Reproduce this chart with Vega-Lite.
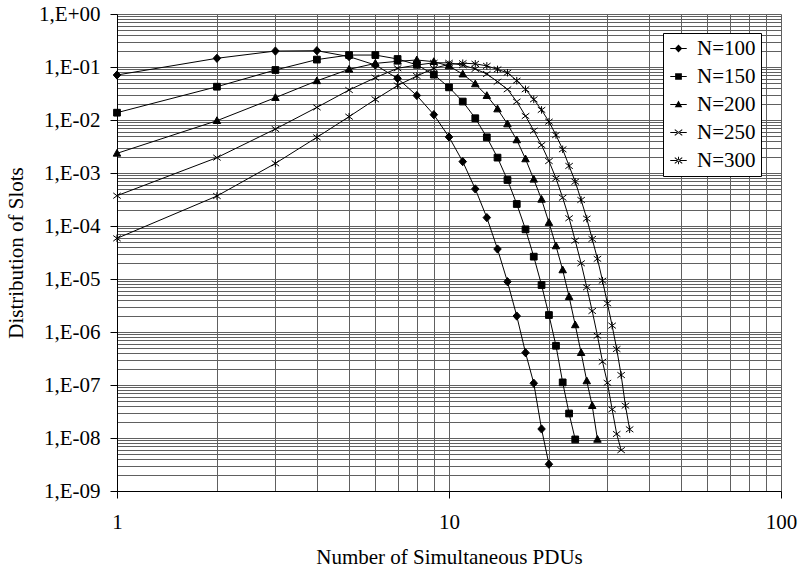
{
  "$schema": "https://vega.github.io/schema/vega-lite/v6.json",
  "width": 664,
  "height": 477,
  "autosize": {"type": "none"},
  "padding": {"left": 117, "top": 14, "right": 23, "bottom": 80},
  "background": "white",
  "config": {
    "view": {"stroke": null},
    "font": "Liberation Serif",
    "axis": {
      "labelFont": "Liberation Serif",
      "titleFont": "Liberation Serif",
      "labelFontSize": 21,
      "titleFontSize": 21,
      "titleFontWeight": "normal",
      "labelColor": "black",
      "titleColor": "black",
      "domainColor": "black",
      "domainWidth": 1,
      "tickColor": "black",
      "tickSize": 7,
      "gridColor": "#606060",
      "gridWidth": 1,
      "gridOpacity": 1,
      "labelFlush": false,
      "labelOverlap": false
    },
    "legend": {
      "labelFont": "Liberation Serif",
      "labelFontSize": 21,
      "labelColor": "black"
    }
  },
  "data": {
    "values": [
      {"n": "N=100", "x": 1, "y": 0.0706},
      {"n": "N=100", "x": 2, "y": 0.146},
      {"n": "N=100", "x": 3, "y": 0.2},
      {"n": "N=100", "x": 4, "y": 0.203},
      {"n": "N=100", "x": 5, "y": 0.157},
      {"n": "N=100", "x": 6, "y": 0.109},
      {"n": "N=100", "x": 7, "y": 0.061},
      {"n": "N=100", "x": 8, "y": 0.029},
      {"n": "N=100", "x": 9, "y": 0.0126},
      {"n": "N=100", "x": 10, "y": 0.00478},
      {"n": "N=100", "x": 11, "y": 0.00164},
      {"n": "N=100", "x": 12, "y": 0.0005},
      {"n": "N=100", "x": 13, "y": 0.000144},
      {"n": "N=100", "x": 14, "y": 0.0000368},
      {"n": "N=100", "x": 15, "y": 0.0000089},
      {"n": "N=100", "x": 16, "y": 0.000002},
      {"n": "N=100", "x": 17, "y": 4.07e-7},
      {"n": "N=100", "x": 18, "y": 1.08e-7},
      {"n": "N=100", "x": 19, "y": 1.48e-8},
      {"n": "N=100", "x": 20, "y": 3.2e-9},
      {"n": "N=150", "x": 1, "y": 0.01374},
      {"n": "N=150", "x": 2, "y": 0.0425},
      {"n": "N=150", "x": 3, "y": 0.0878},
      {"n": "N=150", "x": 4, "y": 0.138},
      {"n": "N=150", "x": 5, "y": 0.168},
      {"n": "N=150", "x": 6, "y": 0.168},
      {"n": "N=150", "x": 7, "y": 0.1416},
      {"n": "N=150", "x": 8, "y": 0.11},
      {"n": "N=150", "x": 9, "y": 0.0717},
      {"n": "N=150", "x": 10, "y": 0.0413},
      {"n": "N=150", "x": 11, "y": 0.0223},
      {"n": "N=150", "x": 12, "y": 0.0108},
      {"n": "N=150", "x": 13, "y": 0.00471},
      {"n": "N=150", "x": 14, "y": 0.00195},
      {"n": "N=150", "x": 15, "y": 0.000738},
      {"n": "N=150", "x": 16, "y": 0.00026},
      {"n": "N=150", "x": 17, "y": 0.0000865},
      {"n": "N=150", "x": 18, "y": 0.0000264},
      {"n": "N=150", "x": 19, "y": 0.0000077},
      {"n": "N=150", "x": 20, "y": 0.00000209},
      {"n": "N=150", "x": 21, "y": 5.5e-7},
      {"n": "N=150", "x": 22, "y": 1.12e-7},
      {"n": "N=150", "x": 23, "y": 2.9e-8},
      {"n": "N=150", "x": 24, "y": 9.4e-9},
      {"n": "N=200", "x": 1, "y": 0.00235},
      {"n": "N=200", "x": 2, "y": 0.0097},
      {"n": "N=200", "x": 3, "y": 0.0264},
      {"n": "N=200", "x": 4, "y": 0.0548},
      {"n": "N=200", "x": 5, "y": 0.0904},
      {"n": "N=200", "x": 6, "y": 0.117},
      {"n": "N=200", "x": 7, "y": 0.128},
      {"n": "N=200", "x": 8, "y": 0.1355},
      {"n": "N=200", "x": 9, "y": 0.126},
      {"n": "N=200", "x": 10, "y": 0.1044},
      {"n": "N=200", "x": 11, "y": 0.0733},
      {"n": "N=200", "x": 12, "y": 0.0478},
      {"n": "N=200", "x": 13, "y": 0.0288},
      {"n": "N=200", "x": 14, "y": 0.0161},
      {"n": "N=200", "x": 15, "y": 0.0084},
      {"n": "N=200", "x": 16, "y": 0.0042},
      {"n": "N=200", "x": 17, "y": 0.00184},
      {"n": "N=200", "x": 18, "y": 0.00076},
      {"n": "N=200", "x": 19, "y": 0.000318},
      {"n": "N=200", "x": 20, "y": 0.000116},
      {"n": "N=200", "x": 21, "y": 0.000042},
      {"n": "N=200", "x": 22, "y": 0.0000148},
      {"n": "N=200", "x": 23, "y": 0.00000464},
      {"n": "N=200", "x": 24, "y": 0.00000136},
      {"n": "N=200", "x": 25, "y": 4.07e-7},
      {"n": "N=200", "x": 26, "y": 1.19e-7},
      {"n": "N=200", "x": 27, "y": 4.07e-8},
      {"n": "N=200", "x": 28, "y": 9.4e-9},
      {"n": "N=250", "x": 1, "y": 0.000373},
      {"n": "N=250", "x": 2, "y": 0.00195},
      {"n": "N=250", "x": 3, "y": 0.00676},
      {"n": "N=250", "x": 4, "y": 0.0173},
      {"n": "N=250", "x": 5, "y": 0.0368},
      {"n": "N=250", "x": 6, "y": 0.0629},
      {"n": "N=250", "x": 7, "y": 0.0945},
      {"n": "N=250", "x": 8, "y": 0.109},
      {"n": "N=250", "x": 9, "y": 0.12},
      {"n": "N=250", "x": 10, "y": 0.12},
      {"n": "N=250", "x": 11, "y": 0.108},
      {"n": "N=250", "x": 12, "y": 0.092},
      {"n": "N=250", "x": 13, "y": 0.0738},
      {"n": "N=250", "x": 14, "y": 0.0528},
      {"n": "N=250", "x": 15, "y": 0.0379},
      {"n": "N=250", "x": 16, "y": 0.0222},
      {"n": "N=250", "x": 17, "y": 0.0119},
      {"n": "N=250", "x": 18, "y": 0.0063},
      {"n": "N=250", "x": 19, "y": 0.00337},
      {"n": "N=250", "x": 20, "y": 0.00168},
      {"n": "N=250", "x": 21, "y": 0.000793},
      {"n": "N=250", "x": 22, "y": 0.000342},
      {"n": "N=250", "x": 23, "y": 0.00014},
      {"n": "N=250", "x": 24, "y": 0.000053},
      {"n": "N=250", "x": 25, "y": 0.0000198},
      {"n": "N=250", "x": 26, "y": 0.00000697},
      {"n": "N=250", "x": 27, "y": 0.00000249},
      {"n": "N=250", "x": 28, "y": 8.5e-7},
      {"n": "N=250", "x": 29, "y": 2.75e-7},
      {"n": "N=250", "x": 30, "y": 1.1e-7},
      {"n": "N=250", "x": 31, "y": 3.47e-8},
      {"n": "N=250", "x": 32, "y": 1.19e-8},
      {"n": "N=250", "x": 33, "y": 5.9e-9},
      {"n": "N=300", "x": 1, "y": 0.0000585},
      {"n": "N=300", "x": 2, "y": 0.000368},
      {"n": "N=300", "x": 3, "y": 0.00152},
      {"n": "N=300", "x": 4, "y": 0.00471},
      {"n": "N=300", "x": 5, "y": 0.01155},
      {"n": "N=300", "x": 6, "y": 0.0245},
      {"n": "N=300", "x": 7, "y": 0.0447},
      {"n": "N=300", "x": 8, "y": 0.0676},
      {"n": "N=300", "x": 9, "y": 0.0945},
      {"n": "N=300", "x": 10, "y": 0.112},
      {"n": "N=300", "x": 11, "y": 0.118},
      {"n": "N=300", "x": 12, "y": 0.115},
      {"n": "N=300", "x": 13, "y": 0.105},
      {"n": "N=300", "x": 14, "y": 0.09},
      {"n": "N=300", "x": 15, "y": 0.078},
      {"n": "N=300", "x": 16, "y": 0.0552},
      {"n": "N=300", "x": 17, "y": 0.038},
      {"n": "N=300", "x": 18, "y": 0.0245},
      {"n": "N=300", "x": 19, "y": 0.0155},
      {"n": "N=300", "x": 20, "y": 0.0093},
      {"n": "N=300", "x": 21, "y": 0.0052},
      {"n": "N=300", "x": 22, "y": 0.0028},
      {"n": "N=300", "x": 23, "y": 0.00136},
      {"n": "N=300", "x": 24, "y": 0.000686},
      {"n": "N=300", "x": 25, "y": 0.00031},
      {"n": "N=300", "x": 26, "y": 0.000138},
      {"n": "N=300", "x": 27, "y": 0.000057},
      {"n": "N=300", "x": 28, "y": 0.000024},
      {"n": "N=300", "x": 29, "y": 0.0000093},
      {"n": "N=300", "x": 30, "y": 0.00000347},
      {"n": "N=300", "x": 31, "y": 0.00000132},
      {"n": "N=300", "x": 32, "y": 4.77e-7},
      {"n": "N=300", "x": 33, "y": 1.54e-7},
      {"n": "N=300", "x": 34, "y": 4.07e-8},
      {"n": "N=300", "x": 35, "y": 1.46e-8}
    ]
  },
  "encoding": {
    "x": {
      "field": "x",
      "type": "quantitative",
      "scale": {"type": "log", "domain": [1, 100], "nice": false},
      "axis": {
        "title": "Number of Simultaneous PDUs",
        "titlePadding": 14,
        "labelPadding": 13,
        "values": [1, 2, 3, 4, 5, 6, 7, 8, 9, 10, 20, 30, 40, 50, 60, 70, 80, 90, 100],
        "labelExpr": "abs(log(datum.value)/LN10 - round(log(datum.value)/LN10)) < 0.001 ? toString(round(datum.value)) : ''",
        "tickOpacity": {"condition": {"test": "abs(log(datum.value)/LN10 - round(log(datum.value)/LN10)) < 0.001", "value": 1}, "value": 0}
      }
    },
    "y": {
      "field": "y",
      "type": "quantitative",
      "scale": {"type": "log", "domain": [1e-9, 1], "nice": false},
      "axis": {
        "title": "Distribution of Slots",
        "titlePadding": 12,
        "labelPadding": 10,
        "values": [1e-9, 2e-9, 3e-9, 4e-9, 5e-9, 6e-9, 7e-9, 8e-9, 9e-9,
                   1e-8, 2e-8, 3e-8, 4e-8, 5e-8, 6e-8, 7e-8, 8e-8, 9e-8,
                   1e-7, 2e-7, 3e-7, 4e-7, 5e-7, 6e-7, 7e-7, 8e-7, 9e-7,
                   1e-6, 2e-6, 3e-6, 4e-6, 5e-6, 6e-6, 7e-6, 8e-6, 9e-6,
                   1e-5, 2e-5, 3e-5, 4e-5, 5e-5, 6e-5, 7e-5, 8e-5, 9e-5,
                   1e-4, 2e-4, 3e-4, 4e-4, 5e-4, 6e-4, 7e-4, 8e-4, 9e-4,
                   0.001, 0.002, 0.003, 0.004, 0.005, 0.006, 0.007, 0.008, 0.009,
                   0.01, 0.02, 0.03, 0.04, 0.05, 0.06, 0.07, 0.08, 0.09,
                   0.1, 0.2, 0.3, 0.4, 0.5, 0.6, 0.7, 0.8, 0.9, 1],
        "labelExpr": "abs(log(datum.value)/LN10 - round(log(datum.value)/LN10)) < 0.001 ? '1,E' + (round(log(datum.value)/LN10) < 0 ? '-' : '+') + (abs(round(log(datum.value)/LN10)) < 10 ? '0' : '') + toString(abs(round(log(datum.value)/LN10))) : ''",
        "tickOpacity": {"condition": {"test": "abs(log(datum.value)/LN10 - round(log(datum.value)/LN10)) < 0.001", "value": 1}, "value": 0}
      }
    }
  },
  "layer": [
    {
      "mark": {"type": "line", "color": "black", "strokeWidth": 1},
      "encoding": {"detail": {"field": "n", "type": "nominal"}}
    },
    {
      "mark": {"type": "point", "fill": "black", "stroke": "black", "strokeWidth": 1, "opacity": 1, "size": 56},
      "encoding": {
        "shape": {
          "field": "n",
          "type": "nominal",
          "scale": {
            "domain": ["N=100", "N=150", "N=200", "N=250", "N=300"],
            "range": ["M0,-1.1L1,0L0,1.1L-1,0Z", "M-0.9,-0.9L0.9,-0.9L0.9,0.9L-0.9,0.9Z", "M0,-1.05L1,0.75L-1,0.75Z", "M-1,-0.75L1,0.75M-1,0.75L1,-0.75", "M-1,-0.75L1,0.75M-1,0.75L1,-0.75M0,-1L0,1"]
          },
          "legend": null
        }
      }
    },
    {
      "mark": {"type": "point", "fill": "black", "stroke": "black", "strokeWidth": 1, "opacity": 0, "size": 56},
      "encoding": {
        "shape": {
          "field": "n",
          "type": "nominal",
          "scale": {
            "domain": ["N=100", "N=150", "N=200", "N=250", "N=300"],
            "range": [
              "M-2.2,-0.13L2.2,-0.13L2.2,0.13L-2.2,0.13Z M0,-1.1L1,0L0,1.1L-1,0Z",
              "M-2.2,-0.13L2.2,-0.13L2.2,0.13L-2.2,0.13Z M-0.9,-0.9L0.9,-0.9L0.9,0.9L-0.9,0.9Z",
              "M-2.2,-0.13L2.2,-0.13L2.2,0.13L-2.2,0.13Z M0,-1.05L1,0.75L-1,0.75Z",
              "M-2.2,-0.13L2.2,-0.13L2.2,0.13L-2.2,0.13Z M-1.08,-0.65L0.92,0.85L1.08,0.65L-0.92,-0.85Z M-0.92,0.85L1.08,-0.65L0.92,-0.85L-1.08,0.65Z",
              "M-2.2,-0.13L2.2,-0.13L2.2,0.13L-2.2,0.13Z M-1.08,-0.65L0.92,0.85L1.08,0.65L-0.92,-0.85Z M-0.92,0.85L1.08,-0.65L0.92,-0.85L-1.08,0.65Z M-0.13,-1L0.13,-1L0.13,1L-0.13,1Z"
            ]
          },
          "legend": {
            "title": null,
            "orient": "none",
            "legendX": 546,
            "legendY": 19,
            "symbolOpacity": 1,
            "symbolFillColor": "black",
            "symbolStrokeColor": "black",
            "symbolStrokeWidth": 0,
            "symbolSize": 56,
            "labelOffset": 8,
            "rowPadding": 6,
            "padding": 5,
            "strokeColor": "black",
            "fillColor": "white",
            "offset": 0
          }
        }
      }
    }
  ],
  "resolve": {"scale": {"shape": "independent"}}
}
